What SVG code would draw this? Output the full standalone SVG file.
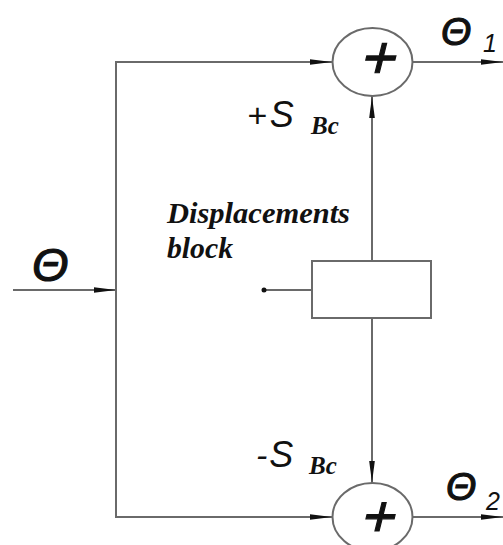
<svg xmlns="http://www.w3.org/2000/svg" width="503" height="545" viewBox="0 0 503 545">
<style>
.ln{stroke:#6a6a6a;stroke-width:2;fill:none}
.node{stroke:#6a6a6a;stroke-width:2;fill:#fff}
.sym{font-family:"Liberation Sans",Arial,sans-serif;font-style:italic;fill:#111}
.th{stroke:#111;stroke-width:1.2}
.ser{font-family:"Liberation Serif","Times New Roman",serif;font-style:italic;font-weight:bold;fill:#111}
</style>
<defs>
<marker id="arr" viewBox="0 0 22 8" refX="22" refY="4" markerWidth="22" markerHeight="8" markerUnits="userSpaceOnUse" orient="auto">
<path d="M0,1.2 L22,4 L0,6.8 Z" fill="#111"/>
</marker>
</defs>
<rect width="503" height="545" fill="#fff"/>
<g id="connectors">
<line class="ln" x1="13" y1="290" x2="116" y2="290" marker-end="url(#arr)"/>
<polyline class="ln" points="332,62 116,62 116,517 332,517"/>
<line class="ln" x1="200" y1="62" x2="332" y2="62" marker-end="url(#arr)"/>
<line class="ln" x1="200" y1="517" x2="332" y2="517" marker-end="url(#arr)"/>
<line class="ln" x1="413" y1="62" x2="503" y2="62" marker-end="url(#arr)"/>
<line class="ln" x1="413" y1="517" x2="503" y2="517" marker-end="url(#arr)"/>
<line class="ln" x1="372" y1="261" x2="372" y2="96" marker-end="url(#arr)"/>
<line class="ln" x1="372" y1="318" x2="372" y2="483" marker-end="url(#arr)"/>
<line class="ln" x1="264" y1="290" x2="312" y2="290"/>
<circle cx="264" cy="290" r="2.5" fill="#111"/>
</g>
<g id="sum1">
<ellipse class="node" cx="372.5" cy="62" rx="40" ry="34"/>
<g transform="translate(375,78) skewX(-14)"><text class="sym th" x="0" y="0" font-size="60" text-anchor="middle">+</text></g>
</g>
<g id="sum2">
<ellipse class="node" cx="372.5" cy="517" rx="40" ry="34"/>
<g transform="translate(375,536) skewX(-14)"><text class="sym th" x="0" y="0" font-size="58" text-anchor="middle">+</text></g>
</g>
<g id="block">
<rect class="node" x="312" y="261" width="119" height="57"/>
</g>
<g id="labels">
<text class="sym th" x="32" y="281" font-size="47">Θ</text>
<text class="sym th" x="441" y="45" font-size="39">Θ</text>
<text class="sym" x="483" y="52" font-size="25">1</text>
<text class="sym th" x="446" y="500" font-size="39">Θ</text>
<text class="sym" x="486" y="510" font-size="25">2</text>
<text class="sym" x="247" y="127" font-size="34">+<tspan font-size="36" dx="3">S</tspan></text>
<text class="ser" x="311" y="134" font-size="25">Bc</text>
<text class="sym" x="256" y="467" font-size="34">-<tspan font-size="36" dx="2">S</tspan></text>
<text class="ser" x="309" y="474" font-size="25">Bc</text>
<text class="ser" x="167" y="223" font-size="29" textLength="183" lengthAdjust="spacingAndGlyphs">Displacements</text>
<text class="ser" x="167" y="258" font-size="29" textLength="66" lengthAdjust="spacingAndGlyphs">block</text>
</g>
</svg>
